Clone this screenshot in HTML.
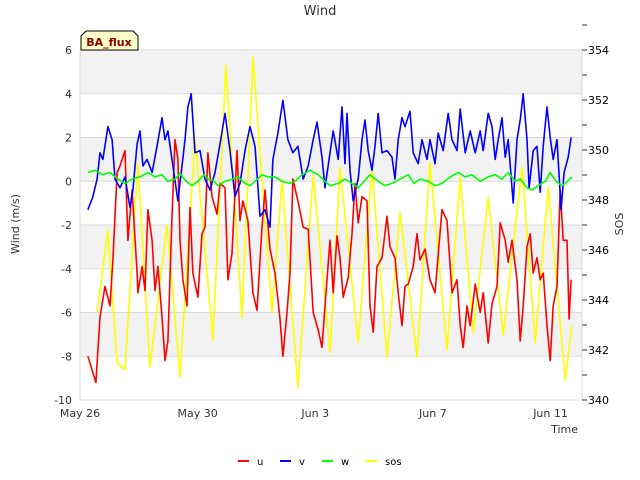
<!DOCTYPE html>
<html><head><meta charset="utf-8"><style>
body{margin:0;background:#fff;}
svg{display:block;font-family:"DejaVu Sans","Liberation Sans",sans-serif;}
</style></head><body>
<svg id="chart" width="640" height="480" viewBox="0 0 640 480">
<g id="bands"></g>
<g id="axes"></g>
<g id="series"></g>
<text x="320" y="15" text-anchor="middle" font-size="13" fill="#333">Wind</text>
<text transform="translate(19,224) rotate(-90)" text-anchor="middle" font-size="11" fill="#333">Wind (m/s)</text>
<text transform="translate(623,224) rotate(-90)" text-anchor="middle" font-size="11" fill="#333">SOS</text>
<text x="578" y="433" text-anchor="end" font-size="11" fill="#333">Time</text>
<g>
<path d="M81,50 L81,36 L86,31 L133,31 L138,36 L138,50 Z" fill="#ffffcc" stroke="#000" stroke-width="1"/>
<text x="109" y="46" text-anchor="middle" font-size="11" font-weight="bold" fill="#8b0000">BA_flux</text>
</g>
<g id="legend"></g>
</svg>
<script>
const uT=[.27,.54,.68,.85,1.02,1.12,1.26,1.36,1.53,1.63,1.77,1.94,1.97,2.11,2.21,2.31,2.45,2.55,2.65,2.79,2.89,2.99,3.13,3.23,3.33,3.40,3.50,3.64,3.74,3.84,4.01,4.15,4.25,4.35,4.49,4.66,4.76,4.93,5.03,5.17,5.34,5.44,5.54,5.71,5.88,6.02,6.19,6.29,6.46,6.63,6.80,6.90,7.04,7.14,7.24,7.41,7.59,7.76,7.93,8.10,8.23,8.33,8.50,8.61,8.74,8.84,8.95,9.12,9.25,9.35,9.46,9.59,9.76,9.86,9.97,10.10,10.27,10.44,10.54,10.71,10.82,10.95,11.05,11.16,11.33,11.46,11.56,11.73,11.90,12.07,12.31,12.48,12.65,12.82,12.93,13.03,13.16,13.27,13.44,13.61,13.71,13.88,14.01,14.18,14.29,14.46,14.56,14.69,14.86,14.97,15.07,15.20,15.31,15.41,15.54,15.65,15.75,15.88,15.99,16.09,16.22,16.33,16.43,16.56,16.63,16.70];
const uV=[-8.0,-9.2,-6.2,-4.8,-5.7,-3.6,0.4,0.7,1.4,-2.7,-0.4,-4.2,-5.1,-3.9,-5.0,-1.3,-2.7,-5.0,-3.9,-6.2,-8.2,-7.3,-1.6,1.9,1.0,-2.7,-4.5,-5.7,-1.2,-4.2,-5.3,-2.4,-2.1,1.3,-0.7,-1.5,-0.1,-0.3,-4.5,-3.3,1.4,-1.8,-0.9,-1.8,-5.1,-5.9,-2.1,-0.4,-3.1,-4.2,-6.3,-8.0,-6.0,-4.2,0.1,-0.9,-2.1,-2.2,-6.0,-6.8,-7.6,-5.7,-2.7,-5.1,-2.5,-3.5,-5.3,-4.4,-2.4,-0.1,-1.9,-0.7,-0.9,-5.7,-6.9,-3.9,-3.5,-1.6,-3.0,-3.5,-5.1,-6.6,-4.8,-4.7,-3.9,-2.4,-3.6,-3.1,-4.5,-5.1,-1.3,-1.8,-5.1,-4.5,-6.6,-7.6,-5.7,-6.6,-4.7,-6.0,-5.1,-7.4,-5.6,-4.8,-1.9,-2.7,-3.7,-2.7,-4.5,-7.3,-5.7,-3.0,-2.4,-4.2,-3.5,-4.5,-4.2,-6.6,-8.2,-5.7,-4.8,-0.4,-2.7,-2.7,-6.3,-4.5];
const vT=[.27,.44,.58,.68,.78,.95,1.09,1.19,1.36,1.53,1.70,1.80,1.94,2.04,2.14,2.28,2.45,2.62,2.79,2.89,2.99,3.16,3.33,3.47,3.57,3.67,3.78,3.91,4.08,4.25,4.42,4.59,4.76,4.93,5.10,5.27,5.44,5.61,5.78,5.95,6.12,6.29,6.46,6.56,6.73,6.90,7.07,7.24,7.41,7.59,7.76,7.93,8.06,8.23,8.33,8.50,8.61,8.78,8.91,9.01,9.08,9.18,9.29,9.46,9.59,9.69,9.80,9.93,10.03,10.14,10.27,10.44,10.61,10.71,10.82,10.95,11.05,11.22,11.33,11.50,11.63,11.80,11.90,12.07,12.18,12.35,12.52,12.65,12.82,12.93,13.10,13.27,13.44,13.61,13.71,13.88,14.01,14.12,14.22,14.35,14.46,14.56,14.73,14.86,14.97,15.07,15.20,15.27,15.41,15.54,15.65,15.75,15.88,15.99,16.09,16.22,16.36,16.46,16.60,16.70];
const vV=[-1.3,-0.7,0.1,1.3,1.0,2.5,1.9,0.1,-0.3,0.2,-1.2,-0.4,1.7,2.3,0.7,1.0,0.4,1.6,2.9,1.9,2.3,0.7,-0.9,0.7,1.9,3.4,4.0,1.3,1.4,0.1,-0.4,0.4,1.7,3.1,1.4,-0.7,-0.1,1.4,2.5,1.6,-1.6,-1.3,-2.1,1.0,2.2,3.7,1.9,1.3,1.6,0.1,0.7,1.9,2.7,1.1,-0.3,1.3,2.3,1.0,3.4,0.8,3.1,0.5,-0.9,0.1,1.9,2.8,1.4,0.5,1.6,3.1,1.3,1.4,1.1,0.1,1.9,2.9,2.5,3.2,1.3,0.8,1.9,1.0,1.9,0.8,2.2,1.4,3.1,1.9,1.4,3.3,1.3,2.3,1.3,2.3,1.4,3.1,2.5,1.0,1.9,2.9,1.1,1.9,-1.0,1.9,2.8,4.0,1.9,-0.3,1.4,1.6,-0.5,1.6,3.4,2.0,1.0,1.9,-1.3,0.4,1.1,2.0];
const wT=[.27,.51,.78,1.02,1.29,1.53,1.77,2.04,2.31,2.55,2.79,2.99,3.23,3.40,3.61,3.81,4.01,4.22,4.35,4.52,4.69,4.93,5.17,5.37,5.61,5.78,5.95,6.19,6.39,6.63,6.87,7.14,7.35,7.55,7.82,8.10,8.33,8.50,8.78,9.01,9.25,9.46,9.66,9.86,10.14,10.37,10.61,10.88,11.16,11.36,11.56,11.84,12.07,12.31,12.59,12.86,13.10,13.33,13.61,13.88,14.12,14.35,14.56,14.80,14.97,15.20,15.37,15.58,15.82,15.99,16.19,16.39,16.50,16.73];
const wV=[0.4,0.5,0.3,0.4,0.1,-0.1,0.1,0.2,0.4,0.2,0.3,0.0,0.1,0.35,0.0,-0.2,0.0,0.3,0.1,0.05,-0.2,0.0,0.1,0.2,-0.1,-0.2,0.0,0.3,0.2,0.2,0.0,-0.1,0.05,0.3,0.5,0.3,0.0,-0.2,-0.1,0.1,-0.1,-0.3,0.0,0.3,0.0,-0.2,-0.1,0.1,0.3,-0.1,0.1,0.0,-0.2,-0.1,0.2,0.4,0.2,0.3,0.0,0.2,0.3,0.1,0.4,0.0,0.1,-0.3,-0.4,-0.2,0.0,0.4,0.0,-0.2,-0.1,0.2];
const sT=[.58,.95,1.26,1.53,1.97,2.38,2.96,3.40,3.91,4.52,4.96,5.51,5.88,6.53,6.87,7.41,7.93,8.50,8.84,9.46,9.93,10.44,10.88,11.46,11.90,12.48,12.93,13.37,13.88,14.39,15.03,15.48,15.92,16.50,16.73];
const sV=[343.5,346.8,341.5,341.2,349.5,341.3,347.0,340.9,350.5,342.4,353.4,343.3,353.7,343.5,348.8,340.5,349.0,341.9,349.3,342.3,349.3,341.7,347.5,341.7,349.5,342.0,348.9,342.7,348.1,342.6,349.3,342.3,348.5,340.8,343.0];
const yTicks=[-10,-8,-6,-4,-2,0,2,4,6];
const y2Ticks=[340,342,344,346,348,350,352,354];
const xTickDays=[0,4,8,12,16];
const xTickLabels=["May 26","May 30","Jun 3","Jun 7","Jun 11"];
const bandRanges=[[4,6],[0,2],[-4,-2],[-8,-6]];

const L=80,R=582,T=50,B=400,NS="http://www.w3.org/2000/svg";
const X=d=>L+d*(R-L)/17.07;
const Y=v=>B-(v+10)*(B-T)/16;
const Y2=v=>B-(v-340)*(B-T)/14;
function mk(tag,attrs,parent){const e=document.createElementNS(NS,tag);for(const k in attrs)e.setAttribute(k,attrs[k]);parent.appendChild(e);return e;}
const bands=document.getElementById('bands'),axes=document.getElementById('axes'),ser=document.getElementById('series'),leg=document.getElementById('legend');
bandRanges.forEach(b=>{const r=mk('rect',{x:L,y:Y(b[1]),width:R-L,height:Y(b[0])-Y(b[1]),fill:'#f2f2f2'},bands);

});
yTicks.forEach(v=>{const l=mk('line',{x1:L,x2:R,y1:Y(v),y2:Y(v),stroke:'#dcdcdc','stroke-width':1},axes);


const t=mk('text',{x:L-8,y:Y(v)+4,'text-anchor':'end','font-size':11,fill:'#333'},axes);t.textContent=v;

});
mk('line',{x1:L,x2:L,y1:T,y2:B,stroke:'#dcdcdc'},axes);
mk('line',{x1:R,x2:R,y1:T,y2:B,stroke:'#dcdcdc'},axes);
y2Ticks.forEach(v=>{mk('line',{x1:R,x2:R+5,y1:Y2(v),y2:Y2(v),stroke:'#333'},axes);
mk('line',{x1:R,x2:R+5,y1:Y2(v+1),y2:Y2(v+1),stroke:'#333'},axes);
const t=mk('text',{x:R+6,y:Y2(v)+4,'font-size':11,fill:'#000'},axes);t.textContent=v;

});
xTickDays.forEach((d,i)=>{const t=mk('text',{x:X(d),y:417,'text-anchor':'middle','font-size':11,fill:'#333'},axes);t.textContent=xTickLabels[i];

});
function line(ts,vs,yf,col,name){const p=ts.map((t,i)=>X(t).toFixed(1)+','+yf(vs[i]).toFixed(1)).join(' ');
const e=mk('polyline',{points:p,fill:'none',stroke:col,'stroke-width':1.6,'stroke-linejoin':'round'},ser);

}
line(sT,sV,Y2,'#ffff00','sos-line');
line(uT,uV,Y,'#ff0000','u-line');
line(vT,vV,Y,'#0000ff','v-line');
line(wT,wV,Y,'#00ff00','w-line');
[["u","#ff0000",238],["v","#0000ff",280],["w","#00ff00",322],["sos","#ffff00",366]].forEach(a=>{
mk('line',{x1:a[2],x2:a[2]+11,y1:461,y2:461,stroke:a[1],'stroke-width':2},leg);
const t=mk('text',{x:a[2]+19,y:465,'font-size':10,fill:'#000'},leg);t.textContent=a[0];

});
</script>
</body></html>
